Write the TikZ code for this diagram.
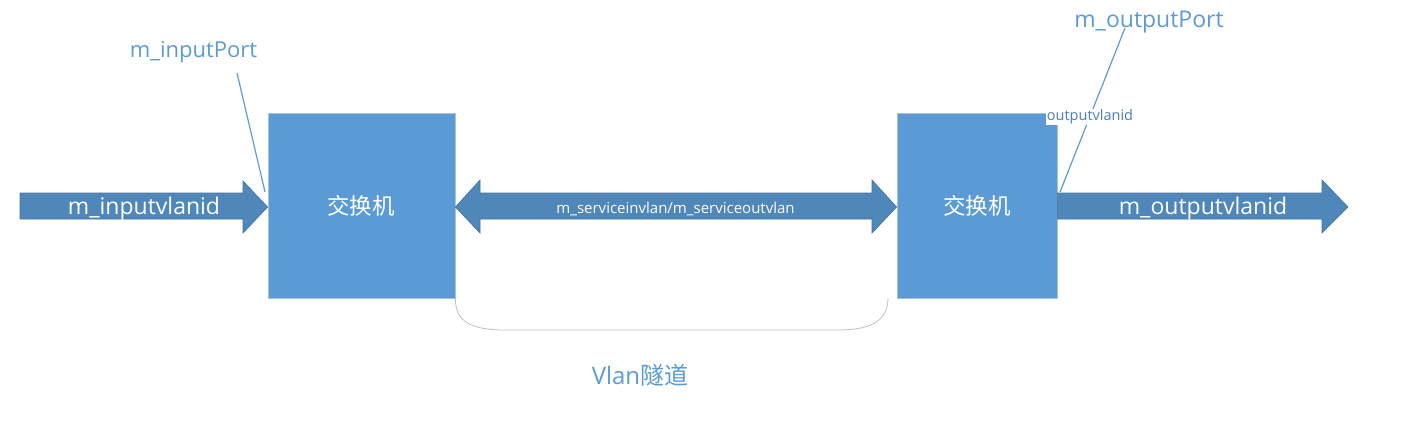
\documentclass[tikz,border=0pt]{standalone}
\usepackage{fontspec}
\newfontfamily\osans{Open Sans}
\newfontfamily\cjk{Noto Sans CJK SC}
\definecolor{boxblue}{HTML}{5B9BD5}
\definecolor{arrowblue}{HTML}{4F87BB}
\definecolor{arrowedge}{HTML}{41719C}
\definecolor{boxedge}{HTML}{A9C2DA}
\definecolor{labelblue}{HTML}{5B9BD5}
\definecolor{darklabel}{HTML}{4A7EBB}
\definecolor{bracegray}{HTML}{BFBFBF}
\tikzset{
  switchbox/.style={draw=boxedge, line width=0.8pt, fill=boxblue, inner sep=0pt},
  blockarrow/.style={draw=arrowedge, line width=0.6pt, fill=arrowblue},
  arrowtext/.style={text=white, inner sep=0pt},
  bluelabel/.style={text=labelblue, inner sep=0pt},
  pointer/.style={draw=labelblue, line width=1.2pt},
}
\begin{document}
\begin{tikzpicture}[x=1pt,y=-1pt]
\useasboundingbox (0,0) rectangle (1410,441);
% switches
\node[switchbox, minimum width=187pt, minimum height=185pt] (sw1) at (361.5,205.5) {};
\node[switchbox, minimum width=160pt, minimum height=185pt] (sw2) at (977,205.5) {};
\node[arrowtext] (sw1t) at (361,206) {\fontsize{22.5}{26}\selectfont\cjk 交换机};
\node[arrowtext] (sw2t) at (977,206) {\fontsize{22.5}{26}\selectfont\cjk 交换机};
% arrows
\draw[blockarrow] (20,193) -- (243,193) -- (243,181) -- (sw1.west |- 0,207) -- (243,233) -- (243,219) -- (20,219) -- cycle;
\draw[blockarrow] (sw1.east |- 0,207) -- (480,180) -- (480,193) -- (872,193) -- (872,180) -- (sw2.west |- 0,207) -- (872,233) -- (872,219) -- (480,219) -- (480,233) -- cycle;
\draw[blockarrow] (sw2.east |- 0,193) -- (1322,193) -- (1322,180) -- (1348,207) -- (1322,233) -- (1322,219) -- (sw2.east |- 0,219) -- cycle;
\node[arrowtext] (inv) at (144,208.5) {\fontsize{23}{27}\selectfont\osans m\_inputvlanid};
\node[arrowtext] (svc) at (675.5,208.5) {\fontsize{15}{18}\selectfont\osans m\_serviceinvlan/m\_serviceoutvlan};
\node[arrowtext] (outv) at (1203,208.5) {\fontsize{23}{27}\selectfont\osans m\_outputvlanid};
% tunnel bracket
\draw[bracegray, line width=0.8pt] (sw1.south east) .. controls (455,322) and (472,330) .. (505,330) -- (838,330) .. controls (872,330) and (888,320) .. (888,298);
\node[bluelabel] (tun) at (640,375) {\fontsize{24}{28}\selectfont{\osans Vlan}{\cjk 隧道}};
% port labels
\node[bluelabel] (inport) at (193.5,52.5) {\fontsize{22}{26}\selectfont\osans m\_inputPort};
\node[bluelabel] (outport) at (1149,22) {\fontsize{23}{27}\selectfont\osans m\_outputPort};
\coordinate (inptop) at (237,73);
\coordinate (inpbot) at (265,192);
\coordinate (outptop) at (1125,28);
\coordinate (outpbot) at (1060,192);
\draw[pointer] (inptop) -- (inpbot);
\draw[pointer] (outptop) -- (outpbot);
\node[fill=white, text=darklabel, inner sep=1.2pt] (outvid) at (1090,117) {\fontsize{14.5}{17}\selectfont\osans outputvlanid};
\end{tikzpicture}
\end{document}
